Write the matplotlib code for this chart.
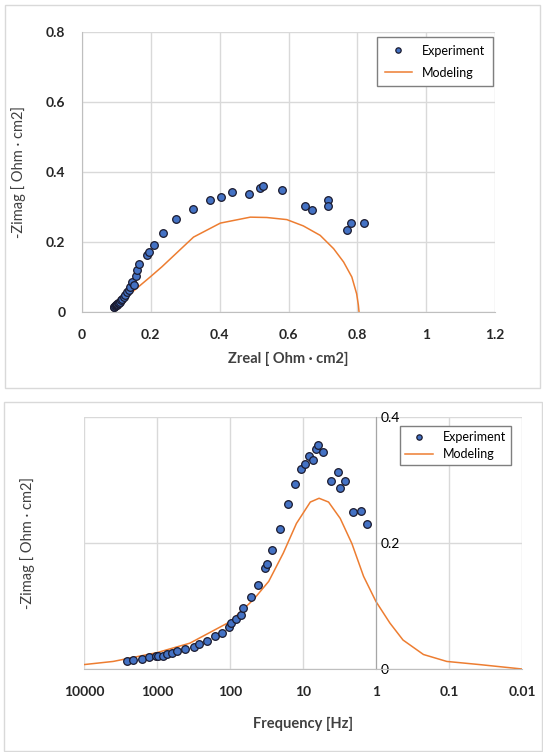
import numpy as np
import matplotlib
matplotlib.use("Agg")
import matplotlib.pyplot as plt
from matplotlib.patches import Rectangle

plt.rcParams['font.family'] = ['Lato', 'DejaVu Sans']

# Nyquist data (top)
zreal_exp = [0.092, 0.094, 0.096, 0.098, 0.100, 0.101, 0.103, 0.105, 0.107, 0.110,
             0.113, 0.117, 0.121, 0.126, 0.131, 0.136, 0.140, 0.145, 0.150, 0.158,
             0.160, 0.167, 0.189, 0.194, 0.208, 0.235, 0.273, 0.322, 0.373, 0.404,
             0.437, 0.484, 0.518, 0.527, 0.581, 0.648, 0.668, 0.716, 0.716, 0.771,
             0.782, 0.818]
zimag_exp = [0.013, 0.015, 0.017, 0.019, 0.020, 0.021, 0.023, 0.025, 0.027, 0.030,
             0.034, 0.038, 0.044, 0.050, 0.056, 0.063, 0.072, 0.086, 0.076, 0.102,
             0.119, 0.138, 0.162, 0.171, 0.192, 0.226, 0.266, 0.295, 0.321, 0.329,
             0.343, 0.336, 0.354, 0.359, 0.348, 0.303, 0.292, 0.319, 0.303, 0.233,
             0.255, 0.255]
zreal_mod = [0.095, 0.097, 0.140, 0.198, 0.232, 0.324, 0.402, 0.489, 0.537, 0.595,
             0.643, 0.692, 0.731, 0.760, 0.784, 0.798, 0.803, 0.805]
zimag_mod = [0.0, 0.005, 0.052, 0.100, 0.129, 0.214, 0.254, 0.271, 0.270, 0.264,
             0.246, 0.219, 0.181, 0.143, 0.100, 0.052, 0.020, 0.0]

# Bode data (bottom), log10 of frequency
logf_exp = [3.416, 3.324, 3.21, 3.105, 3.014, 2.98, 2.92, 2.86, 2.80, 2.73,
            2.62, 2.50, 2.42, 2.31, 2.21, 2.11, 2.01, 1.98, 1.92, 1.85,
            1.82, 1.71, 1.62, 1.52, 1.50, 1.42, 1.32, 1.21, 1.11, 1.03,
            0.97, 0.92, 0.86, 0.82, 0.80, 0.72, 0.62, 0.52, 0.49, 0.42,
            0.32, 0.21, 0.13]
bode_exp = [0.012, 0.014, 0.016, 0.019, 0.020, 0.020, 0.021, 0.024, 0.025, 0.028,
            0.031, 0.035, 0.039, 0.045, 0.052, 0.057, 0.066, 0.073, 0.080, 0.086,
            0.097, 0.115, 0.134, 0.160, 0.166, 0.189, 0.223, 0.262, 0.293, 0.317,
            0.326, 0.338, 0.331, 0.350, 0.356, 0.344, 0.299, 0.313, 0.288, 0.299,
            0.250, 0.251, 0.230]
logf_mod = [4.3, 4.0, 3.6, 3.0, 2.55, 2.0, 1.68, 1.47, 1.27, 1.09, 0.90, 0.78,
            0.65, 0.49, 0.33, 0.17, 0.0, -0.19, -0.37, -0.65, -0.97, -1.42, -2.0]
bode_mod = [0.005, 0.007, 0.012, 0.026, 0.041, 0.075, 0.110, 0.139, 0.184, 0.231,
            0.265, 0.271, 0.265, 0.239, 0.199, 0.147, 0.107, 0.073, 0.046, 0.023,
            0.012, 0.007, 0.0]

freq_ticks = [10000, 1000, 100, 10, 1, 0.1, 0.01]
freq_labels = ['10000', '1000', '100', '10', '1', '0.1', '0.01']

W, H = 543, 752
fig = plt.figure(figsize=(W / 100, H / 100), dpi=100)

def fx(px):
    return px / W

def fy(py):
    return 1 - py / H

# chart-area frames
fig.add_artist(Rectangle((fx(5), fy(388)), fx(535), 383 / H, transform=fig.transFigure,
                         fill=False, edgecolor='#d9d9d9', lw=1))
fig.add_artist(Rectangle((fx(4), fy(751)), fx(538), 349 / H, transform=fig.transFigure,
                         fill=False, edgecolor='#d9d9d9', lw=1))

grid_c = '#d9d9d9'
blue = '#4472C4'
orange = '#ED7D31'
tick_font = dict(fontsize=10, fontweight='bold', color='#262626')

# ---- top: Nyquist ----
ax1 = fig.add_axes([fx(82), fy(312), fx(495 - 82), (312 - 32) / H])
ax1.plot(zreal_exp, zimag_exp, 'o', color=blue, mec='#1a1a2e', mew=0.9, ms=5.5,
         label='Experiment', zorder=3)
ax1.plot(zreal_mod, zimag_mod, '-', color=orange, lw=1.1, label='Modeling', zorder=2)
ax1.set_xlim(0, 1.2)
ax1.set_ylim(0, 0.8)
ax1.set_xticks([0, 0.2, 0.4, 0.6, 0.8, 1.0, 1.2])
ax1.set_xticklabels(['0', '0.2', '0.4', '0.6', '0.8', '1', '1.2'], **tick_font)
ax1.set_yticks([0, 0.2, 0.4, 0.6, 0.8])
ax1.set_yticklabels(['0', '0.2', '0.4', '0.6', '0.8'], **tick_font)
ax1.tick_params(length=0, pad=12)
ax1.grid(True, color=grid_c, lw=1)
ax1.set_axisbelow(True)
for s in ['top', 'right']:
    ax1.spines[s].set_visible(False)
for s in ['left', 'bottom']:
    ax1.spines[s].set_color('#bfbfbf')
ax1.set_xlabel('Zreal [ Ohm · cm2]', fontsize=10.5, fontweight='bold', color='#404040',
               labelpad=8)
ax1.set_ylabel('-Zimag [ Ohm · cm2]', fontsize=10.5, color='#404040', labelpad=14)
leg1 = ax1.legend(loc='upper right', bbox_to_anchor=(0.995, 0.982), borderaxespad=0,
                  fontsize=9, fancybox=False, edgecolor='#7f7f7f', framealpha=1,
                  handlelength=2.2, markerscale=0.7, borderpad=0.6, labelspacing=0.8)
leg1.get_frame().set_linewidth(1)

# ---- bottom: Bode ----
ax2 = fig.add_axes([fx(84), fy(669), fx(522 - 84), (669 - 417) / H])
ax2.plot(10 ** np.array(logf_exp), bode_exp, 'o', color=blue, mec='#1a1a2e', mew=0.9,
         ms=5.5, label='Experiment', zorder=3)
ax2.plot(10 ** np.array(logf_mod), bode_mod, '-', color=orange, lw=1.1, label='Modeling',
         zorder=2)
ax2.set_xscale('log')
ax2.set_xlim(10000, 0.01)
ax2.set_ylim(0, 0.4)
ax2.set_xticks(freq_ticks)
ax2.set_xticklabels(freq_labels, **tick_font)
ax2.minorticks_off()
ax2.set_yticks([0, 0.2, 0.4])
ax2.set_yticklabels(['0', '0.2', '0.4'], **tick_font)
ax2.yaxis.tick_right()
ax2.spines['right'].set_position(('data', 1))
ax2.spines['right'].set_color('#a6a6a6')
ax2.spines['bottom'].set_color('#bfbfbf')
for s in ['top', 'left']:
    ax2.spines[s].set_visible(False)
ax2.tick_params(axis='x', length=0, pad=12)
ax2.tick_params(axis='y', length=0, pad=3)
ax2.grid(True, color=grid_c, lw=1)
ax2.set_axisbelow(True)
ax2.set_xlabel('Frequency [Hz]', fontsize=10.5, fontweight='bold', color='#404040',
               labelpad=14)
fig.text(fx(28), fy(543), '-Zimag [ Ohm · cm2]', rotation=90, ha='center', va='center',
         fontsize=10.5, color='#404040')
leg2 = ax2.legend(loc='upper right', bbox_to_anchor=(0.975, 0.964), borderaxespad=0,
                  fontsize=9, fancybox=False, edgecolor='#7f7f7f', framealpha=1,
                  handlelength=2.2, markerscale=0.7, borderpad=0.4, labelspacing=0.4)
leg2.get_frame().set_linewidth(1)

fig.savefig('out.png', dpi=100)
